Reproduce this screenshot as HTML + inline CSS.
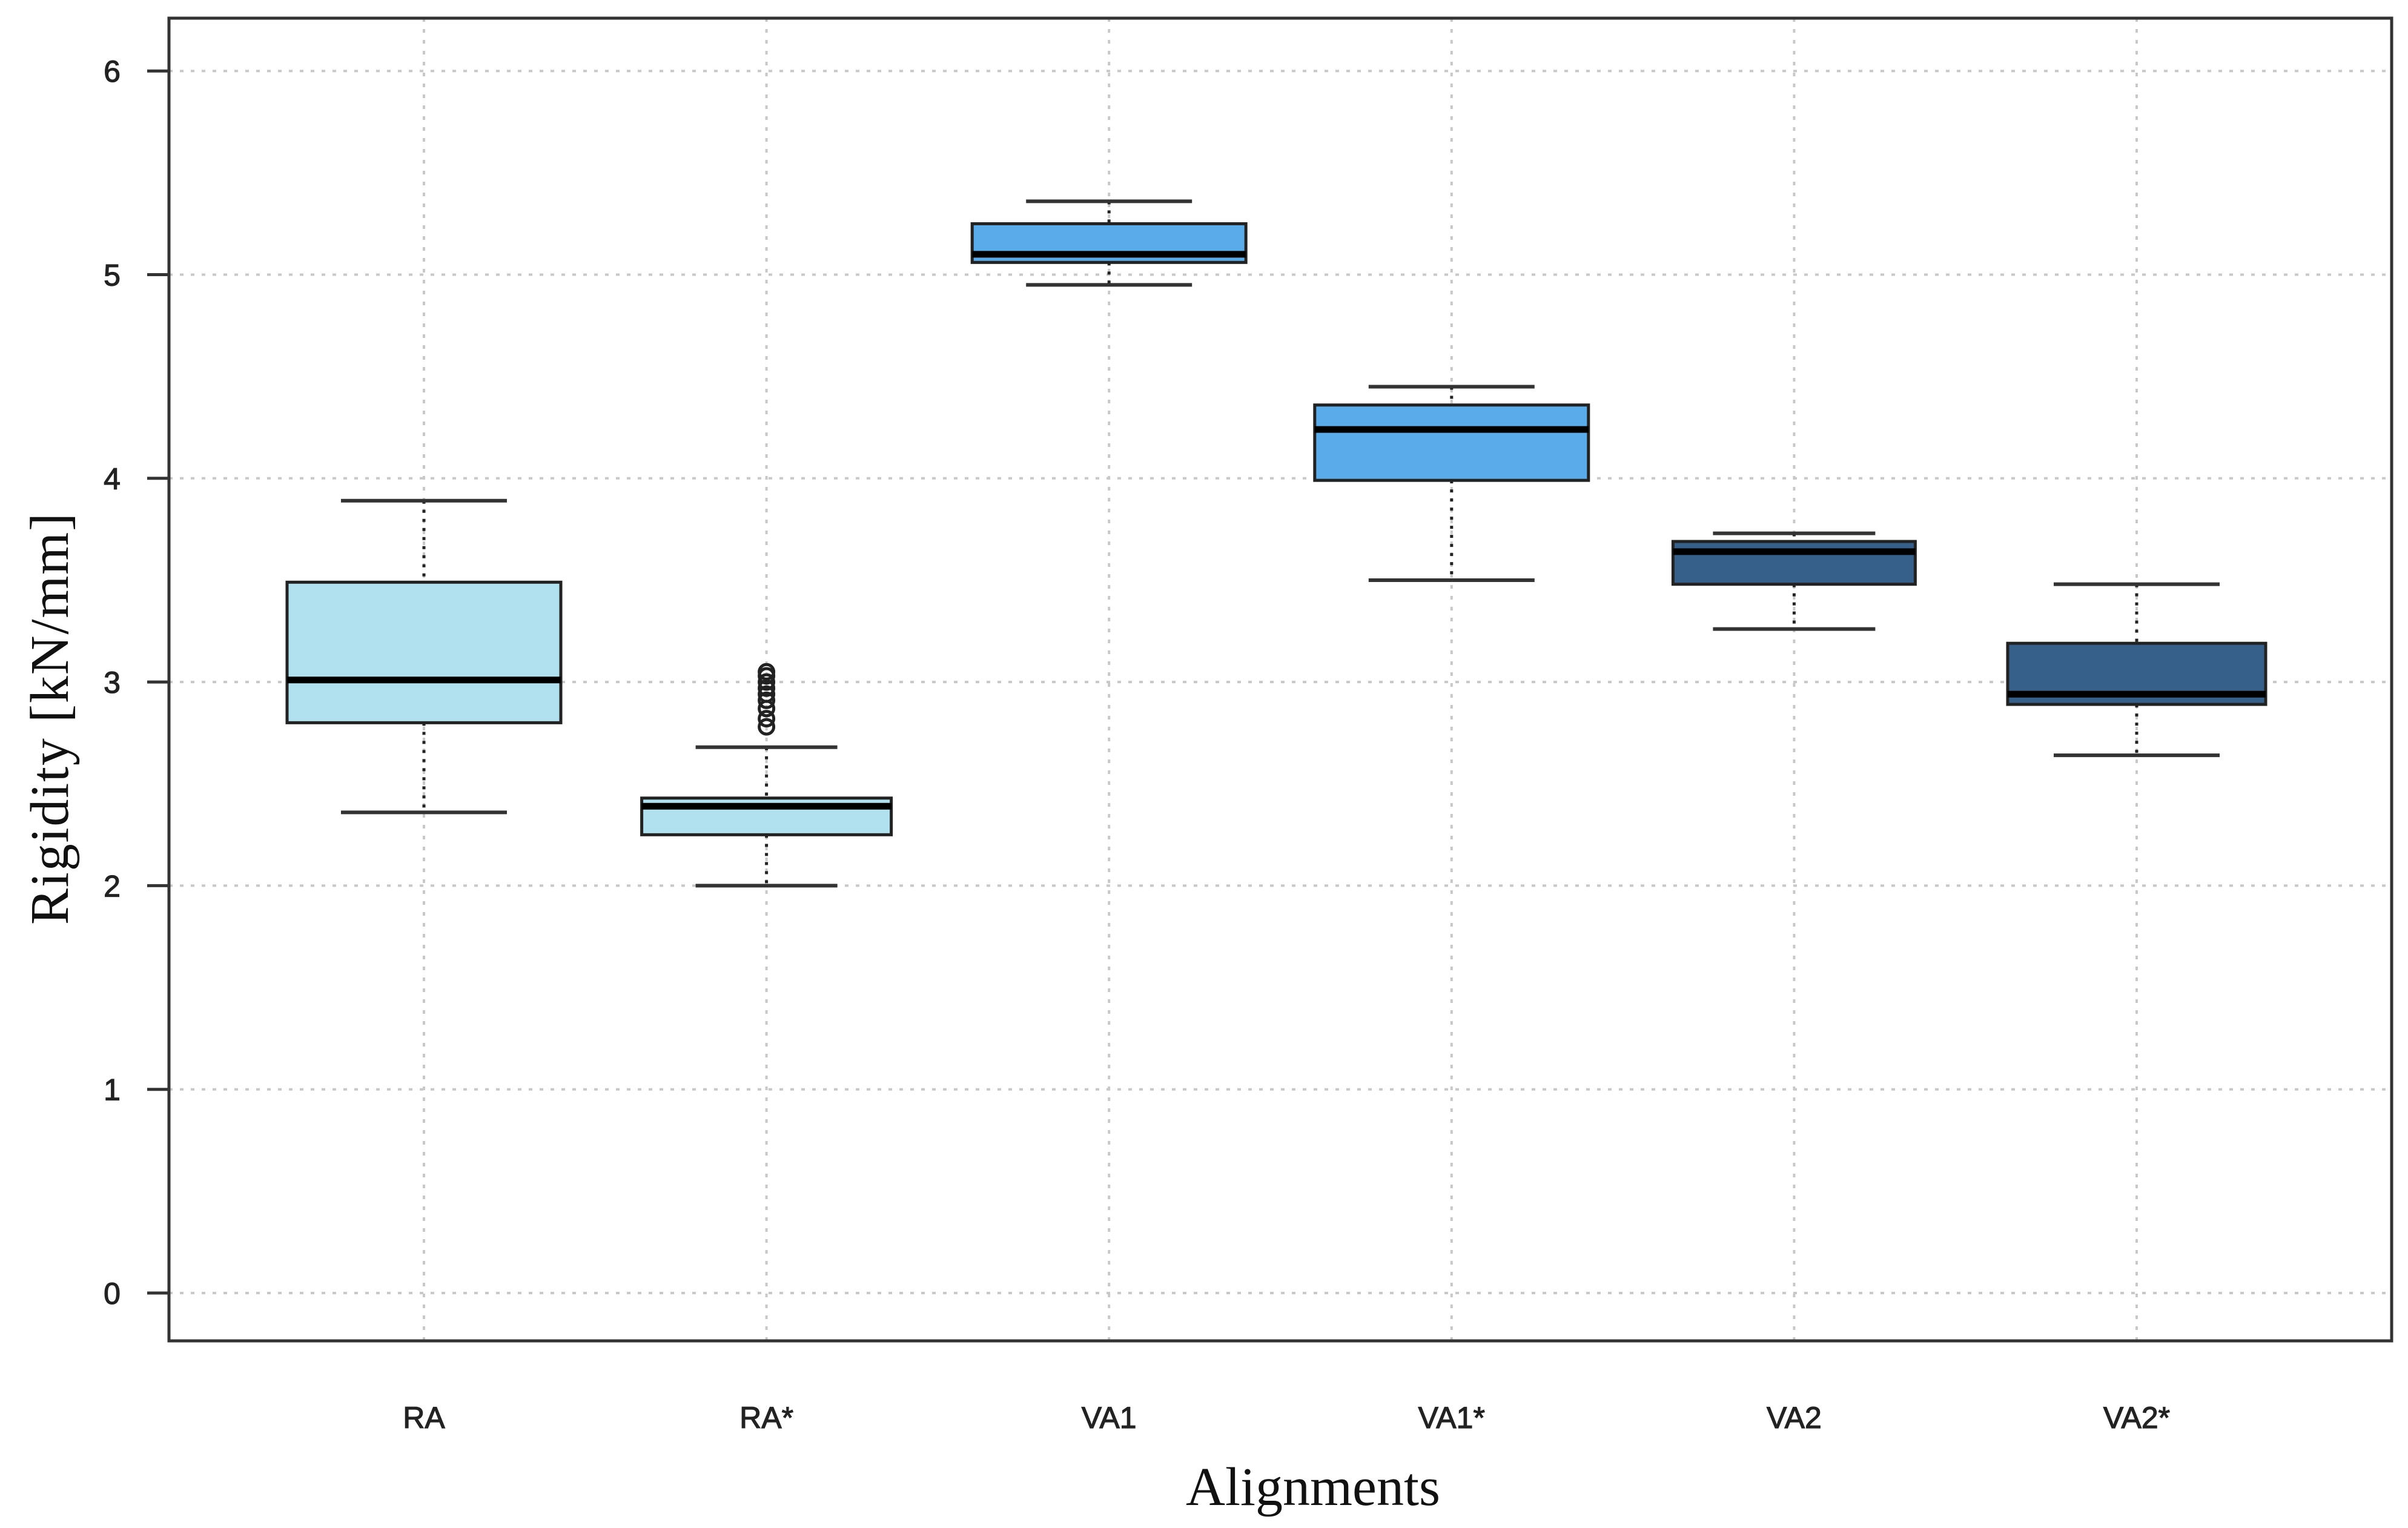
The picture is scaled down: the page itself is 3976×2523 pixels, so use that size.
<!DOCTYPE html>
<html><head><meta charset="utf-8">
<style>
html,body{margin:0;padding:0;background:#fff;}
svg{display:block;}
.tick{font-family:"Liberation Sans",sans-serif;font-size:50px;fill:#222;stroke:#222;stroke-width:1.2px;}
.title{font-family:"Liberation Serif",serif;font-size:90px;fill:#111;}
</style></head>
<body>
<svg id="chart" width="3976" height="2523" viewBox="0 0 3976 2523" xmlns="http://www.w3.org/2000/svg">
<rect width="3976" height="2523" fill="#fff"/>
<g id="grid"></g>
<g id="boxes"></g>
<g id="axes"></g>
<text class="title" transform="translate(112,1187) rotate(-90)" text-anchor="middle" textLength="680" lengthAdjust="spacing">Rigidity  [kN/mm]</text>
<text class="title" x="2168" y="2485" text-anchor="middle">Alignments</text>
</svg>
<script>
const categories = ["RA","RA*","VA1","VA1*","VA2","VA2*"];
const whiskerLow = [2.36, 2.00, 4.95, 3.50, 3.26, 2.64];
const q1 = [2.80, 2.25, 5.06, 3.99, 3.48, 2.89];
const median = [3.01, 2.39, 5.10, 4.24, 3.64, 2.94];
const q3 = [3.49, 2.43, 5.25, 4.36, 3.69, 3.19];
const whiskerHigh = [3.89, 2.68, 5.36, 4.45, 3.73, 3.48];
const outliersRAstar = [2.78, 2.82, 2.87, 2.91, 2.94, 2.97, 3.00, 3.03, 3.05];
const fills = ["#b1e0ee","#b1e0ee","#5aabea","#5aabea","#36608a","#36608a"];
const yTicks = [0,1,2,3,4,5,6];

const NS="http://www.w3.org/2000/svg";
const L=279,R=3949,T=30,B=2214;
const y=v=>2135-(v*336.3);
const x=i=>700+i*565.6;
const BWs=[226,206,226,226,200,213];
const WWs=[137,117,137,137,134,137];
function el(tag,attrs,parent){const e=document.createElementNS(NS,tag);for(const k in attrs)e.setAttribute(k,attrs[k]);parent.appendChild(e);return e;}
const grid=document.getElementById('grid'),boxes=document.getElementById('boxes'),axes=document.getElementById('axes');

yTicks.forEach(t=>{
  const g=el('line',{x1:L,x2:R,y1:y(t),y2:y(t),stroke:'#c8c8c8','stroke-width':4,'stroke-dasharray':'6 12'},grid);
  
  
  const tk=el('line',{x1:L-36,x2:L,y1:y(t),y2:y(t),stroke:'#333','stroke-width':5},axes);
  
  
  const tx=el('text',{x:185,y:y(t)+18,'text-anchor':'middle',class:'tick'},axes);
  tx.textContent=t;
  
  
});
categories.forEach((c,i)=>{
  const BW=BWs[i],WW=WWs[i];
  const g=el('line',{x1:x(i),x2:x(i),y1:T,y2:B,stroke:'#c8c8c8','stroke-width':4,'stroke-dasharray':'6 12'},grid);
  
  
  const tx=el('text',{x:x(i),y:2358,'text-anchor':'middle',class:'tick'},axes);
  tx.textContent=c;
  
  

  const grp=el('g',{},boxes);
  
  
  el('line',{x1:x(i),x2:x(i),y1:y(whiskerHigh[i]),y2:y(q3[i]),stroke:'#222','stroke-width':5,'stroke-dasharray':'5 10'},grp);
  el('line',{x1:x(i),x2:x(i),y1:y(q1[i]),y2:y(whiskerLow[i]),stroke:'#222','stroke-width':5,'stroke-dasharray':'5 10'},grp);
  el('line',{x1:x(i)-WW,x2:x(i)+WW,y1:y(whiskerHigh[i]),y2:y(whiskerHigh[i]),stroke:'#333','stroke-width':6},grp);
  el('line',{x1:x(i)-WW,x2:x(i)+WW,y1:y(whiskerLow[i]),y2:y(whiskerLow[i]),stroke:'#333','stroke-width':6},grp);
  el('rect',{x:x(i)-BW,y:y(q3[i]),width:2*BW,height:y(q1[i])-y(q3[i]),fill:fills[i],stroke:'#222','stroke-width':5},grp);
  el('line',{x1:x(i)-BW,x2:x(i)+BW,y1:y(median[i]),y2:y(median[i]),stroke:'#000','stroke-width':11},grp);
});
outliersRAstar.forEach(v=>{
  const c=el('circle',{cx:x(1),cy:y(v),r:12,fill:'none',stroke:'#222','stroke-width':5},boxes);
  
  
});
const fr=el('rect',{x:L,y:T,width:R-L,height:B-T,fill:'none',stroke:'#333','stroke-width':5},axes);


</script>
</body></html>
